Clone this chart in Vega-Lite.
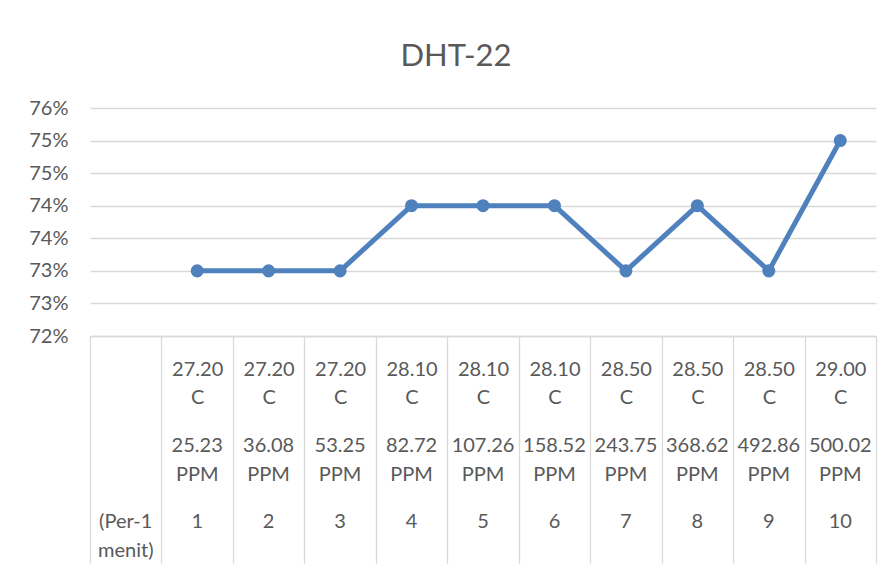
{
  "$schema": "https://vega.github.io/schema/vega-lite/v6.json",
  "width": 786,
  "height": 228,
  "autosize": {"type": "none"},
  "padding": {"left": 90, "top": 108, "right": 17, "bottom": 233},
  "background": "white",
  "title": {
    "text": "DHT-22",
    "font": "Lato",
    "fontSize": 31,
    "fontWeight": "normal",
    "color": "#595959",
    "anchor": "middle",
    "dx": -27,
    "dy": 1,
    "offset": 26
  },
  "data": {
    "values": [
      {"menit": "(Per-1 menit)", "suhu": null, "ppm": null, "kelembapan": null},
      {"menit": "1", "suhu": "27.20", "ppm": "25.23", "kelembapan": 73},
      {"menit": "2", "suhu": "27.20", "ppm": "36.08", "kelembapan": 73},
      {"menit": "3", "suhu": "27.20", "ppm": "53.25", "kelembapan": 73},
      {"menit": "4", "suhu": "28.10", "ppm": "82.72", "kelembapan": 74},
      {"menit": "5", "suhu": "28.10", "ppm": "107.26", "kelembapan": 74},
      {"menit": "6", "suhu": "28.10", "ppm": "158.52", "kelembapan": 74},
      {"menit": "7", "suhu": "28.50", "ppm": "243.75", "kelembapan": 73},
      {"menit": "8", "suhu": "28.50", "ppm": "368.62", "kelembapan": 74},
      {"menit": "9", "suhu": "28.50", "ppm": "492.86", "kelembapan": 73},
      {"menit": "10", "suhu": "29.00", "ppm": "500.02", "kelembapan": 75}
    ]
  },
  "transform": [
    {"calculate": "datum.suhu ? datum.suhu + '|' + datum.ppm + '|' + datum.menit : datum.menit", "as": "kategori"}
  ],
  "encoding": {
    "y": {
      "field": "kelembapan",
      "type": "quantitative",
      "scale": {"domain": [72, 75.5], "nice": false, "zero": false},
      "axis": {
        "title": null,
        "values": [72, 72.5, 73, 73.5, 74, 74.5, 75, 75.5],
        "labelExpr": "round(datum.value) + '%'",
        "labelFont": "Lato",
        "labelFontSize": 20,
        "labelColor": "#595959",
        "labelPadding": 22,
        "domain": false,
        "ticks": false,
        "grid": true,
        "gridColor": "#d9d9d9",
        "gridWidth": 1.3
      }
    }
  },
  "layer": [
    {
      "mark": {"type": "line", "color": "#4f81bd", "strokeWidth": 5, "strokeCap": "round", "strokeJoin": "round", "invalid": "break-paths-show-domains"},
      "encoding": {
        "x": {
          "field": "kategori",
          "type": "nominal",
          "sort": null,
          "scale": {"paddingInner": 0, "paddingOuter": 0},
          "axis": {
            "orient": "bottom",
            "title": null,
            "labelAngle": 0,
            "labelAlign": "center",
            "labelBaseline": "top",
            "labelLineHeight": 28.5,
            "labelFont": "Lato",
            "labelFontSize": 20,
            "labelColor": "#595959",
            "labelOverlap": false,
            "labelFlush": false,
            "labelLimit": 0,
            "labelPadding": -204,
            "tickBand": "extent",
            "tickSize": 227,
            "tickColor": "#d9d9d9",
            "tickWidth": 1.3,
            "domainColor": "#d9d9d9",
            "domainWidth": 1.3,
            "grid": false,
            "labelExpr": "indexof(datum.label, '|') < 0 ? '' : [split(datum.label, '|')[0], 'C']"
          }
        }
      }
    },
    {
      "mark": {"type": "point", "filled": true, "opacity": 1, "size": 170, "color": "#4f81bd", "invalid": "break-paths-show-domains"},
      "encoding": {
        "x": {
          "field": "kategori",
          "type": "nominal",
          "sort": null,
          "axis": {
            "orient": "bottom",
            "title": null,
            "labelAngle": 0,
            "labelAlign": "center",
            "labelBaseline": "top",
            "labelLineHeight": 29.5,
            "labelFont": "Lato",
            "labelFontSize": 20,
            "labelColor": "#595959",
            "labelOverlap": false,
            "labelFlush": false,
            "labelLimit": 0,
            "labelPadding": 99,
            "ticks": false,
            "domain": false,
            "grid": false,
            "labelExpr": "indexof(datum.label, '|') < 0 ? '' : [split(datum.label, '|')[1], 'PPM']"
          }
        }
      }
    },
    {
      "mark": {"type": "text", "text": "", "invalid": "break-paths-show-domains"},
      "encoding": {
        "x": {
          "field": "kategori",
          "type": "nominal",
          "sort": null,
          "axis": {
            "orient": "bottom",
            "title": null,
            "labelAngle": 0,
            "labelAlign": "center",
            "labelBaseline": "top",
            "labelLineHeight": 29,
            "labelFont": "Lato",
            "labelFontSize": 20,
            "labelColor": "#595959",
            "labelOverlap": false,
            "labelFlush": false,
            "labelLimit": 0,
            "labelPadding": 175,
            "ticks": false,
            "domain": false,
            "grid": false,
            "labelExpr": "indexof(datum.label, '|') < 0 ? split(datum.label, ' ') : split(datum.label, '|')[2]"
          }
        }
      }
    }
  ],
  "resolve": {"axis": {"x": "independent"}, "scale": {"x": "shared"}},
  "config": {
    "view": {"stroke": null}
  }
}
